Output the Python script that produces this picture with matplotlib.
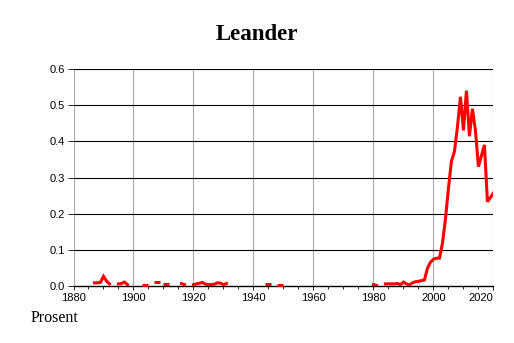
import numpy as np
import matplotlib.pyplot as plt
from matplotlib.ticker import MultipleLocator

# share of newborns named Leander, percent (nan = no data)
years = list(range(1880, 2021))
known = {
    1887: 0.009, 1888: 0.009, 1889: 0.010, 1890: 0.027, 1891: 0.014, 1892: 0.006,
    1895: 0.006, 1896: 0.007, 1897: 0.011, 1898: 0.004,
    1904: 0.004, 1908: 0.010, 1911: 0.005,
    1916: 0.007, 1917: 0.004,
    1920: 0.004, 1921: 0.006, 1922: 0.008, 1923: 0.010, 1924: 0.005, 1925: 0.004,
    1926: 0.004, 1927: 0.005, 1928: 0.009, 1929: 0.008, 1930: 0.004, 1931: 0.007,
    1945: 0.005, 1949: 0.003,
    1980: 0.004, 1981: 0.002,
    1984: 0.006, 1985: 0.006, 1986: 0.006, 1987: 0.006, 1988: 0.007, 1989: 0.004,
    1990: 0.011, 1991: 0.006, 1992: 0.003, 1993: 0.009, 1994: 0.012, 1995: 0.013,
    1996: 0.015, 1997: 0.017, 1998: 0.049, 1999: 0.066, 2000: 0.074, 2001: 0.077,
    2002: 0.077, 2003: 0.118, 2004: 0.185, 2005: 0.270, 2006: 0.345, 2007: 0.372,
    2008: 0.440, 2009: 0.523, 2010: 0.430, 2011: 0.540, 2012: 0.414, 2013: 0.490,
    2014: 0.430, 2015: 0.330, 2016: 0.360, 2017: 0.390, 2018: 0.233, 2019: 0.245,
    2020: 0.257,
}
values = [known.get(y, np.nan) for y in years]

x_ticks = [1880, 1900, 1920, 1940, 1960, 1980, 2000, 2020]
y_ticks = [0.0, 0.1, 0.2, 0.3, 0.4, 0.5, 0.6]

plt.rcParams["font.family"] = ["Liberation Sans", "DejaVu Sans"]

fig = plt.figure(figsize=(5.14, 3.43), dpi=100)
ax = fig.add_axes([0.143, 0.166, 0.817, 0.633])

x = np.array(years, dtype=float)
v = np.array(values, dtype=float)
ax.plot(x, v, color="#ff0000", linewidth=2.2, solid_joinstyle="miter", zorder=3)

# points with no neighbours would vanish as a line, draw them as short dashes
prev_nan = np.r_[True, np.isnan(v[:-1])]
next_nan = np.r_[np.isnan(v[1:]), True]
lone = ~np.isnan(v) & prev_nan & next_nan
ax.plot(x[lone], v[lone], linestyle="none", marker="_", markersize=4,
        markeredgewidth=2.2, color="#ff0000", zorder=3)

ax.set_xlim(1880, 2020)
ax.set_ylim(0, 0.6)
ax.set_xticks(x_ticks)
ax.set_yticks(y_ticks)
ax.set_yticklabels([f"{t:.1f}" for t in y_ticks])
ax.xaxis.set_minor_locator(MultipleLocator(5))

for s in ["top", "right", "left"]:
    ax.spines[s].set_visible(False)
ax.spines["bottom"].set_color("black")
ax.spines["bottom"].set_linewidth(1.0)

for t in x_ticks:
    ax.axvline(t, color="#aaaaaa", linewidth=0.8, zorder=1)
for t in y_ticks[1:]:
    ax.axhline(t, color="black", linewidth=0.8, zorder=2)

ax.tick_params(axis="both", labelsize=8, length=3, width=0.6, pad=2, colors="black")
ax.tick_params(axis="x", which="minor", length=2, width=0.6)
ax.tick_params(axis="y", length=4)
labels = ax.get_xticklabels()
labels[-1].set_horizontalalignment("right")

fig.text(0.5, 0.9, "Leander", ha="center", va="center", fontsize=16.5,
         fontweight="bold", family="Liberation Serif")
fig.text(0.105, 0.073, "Prosent", ha="center", va="center", fontsize=11.5,
         family="Liberation Serif")

fig.savefig("out.png", dpi=100)
